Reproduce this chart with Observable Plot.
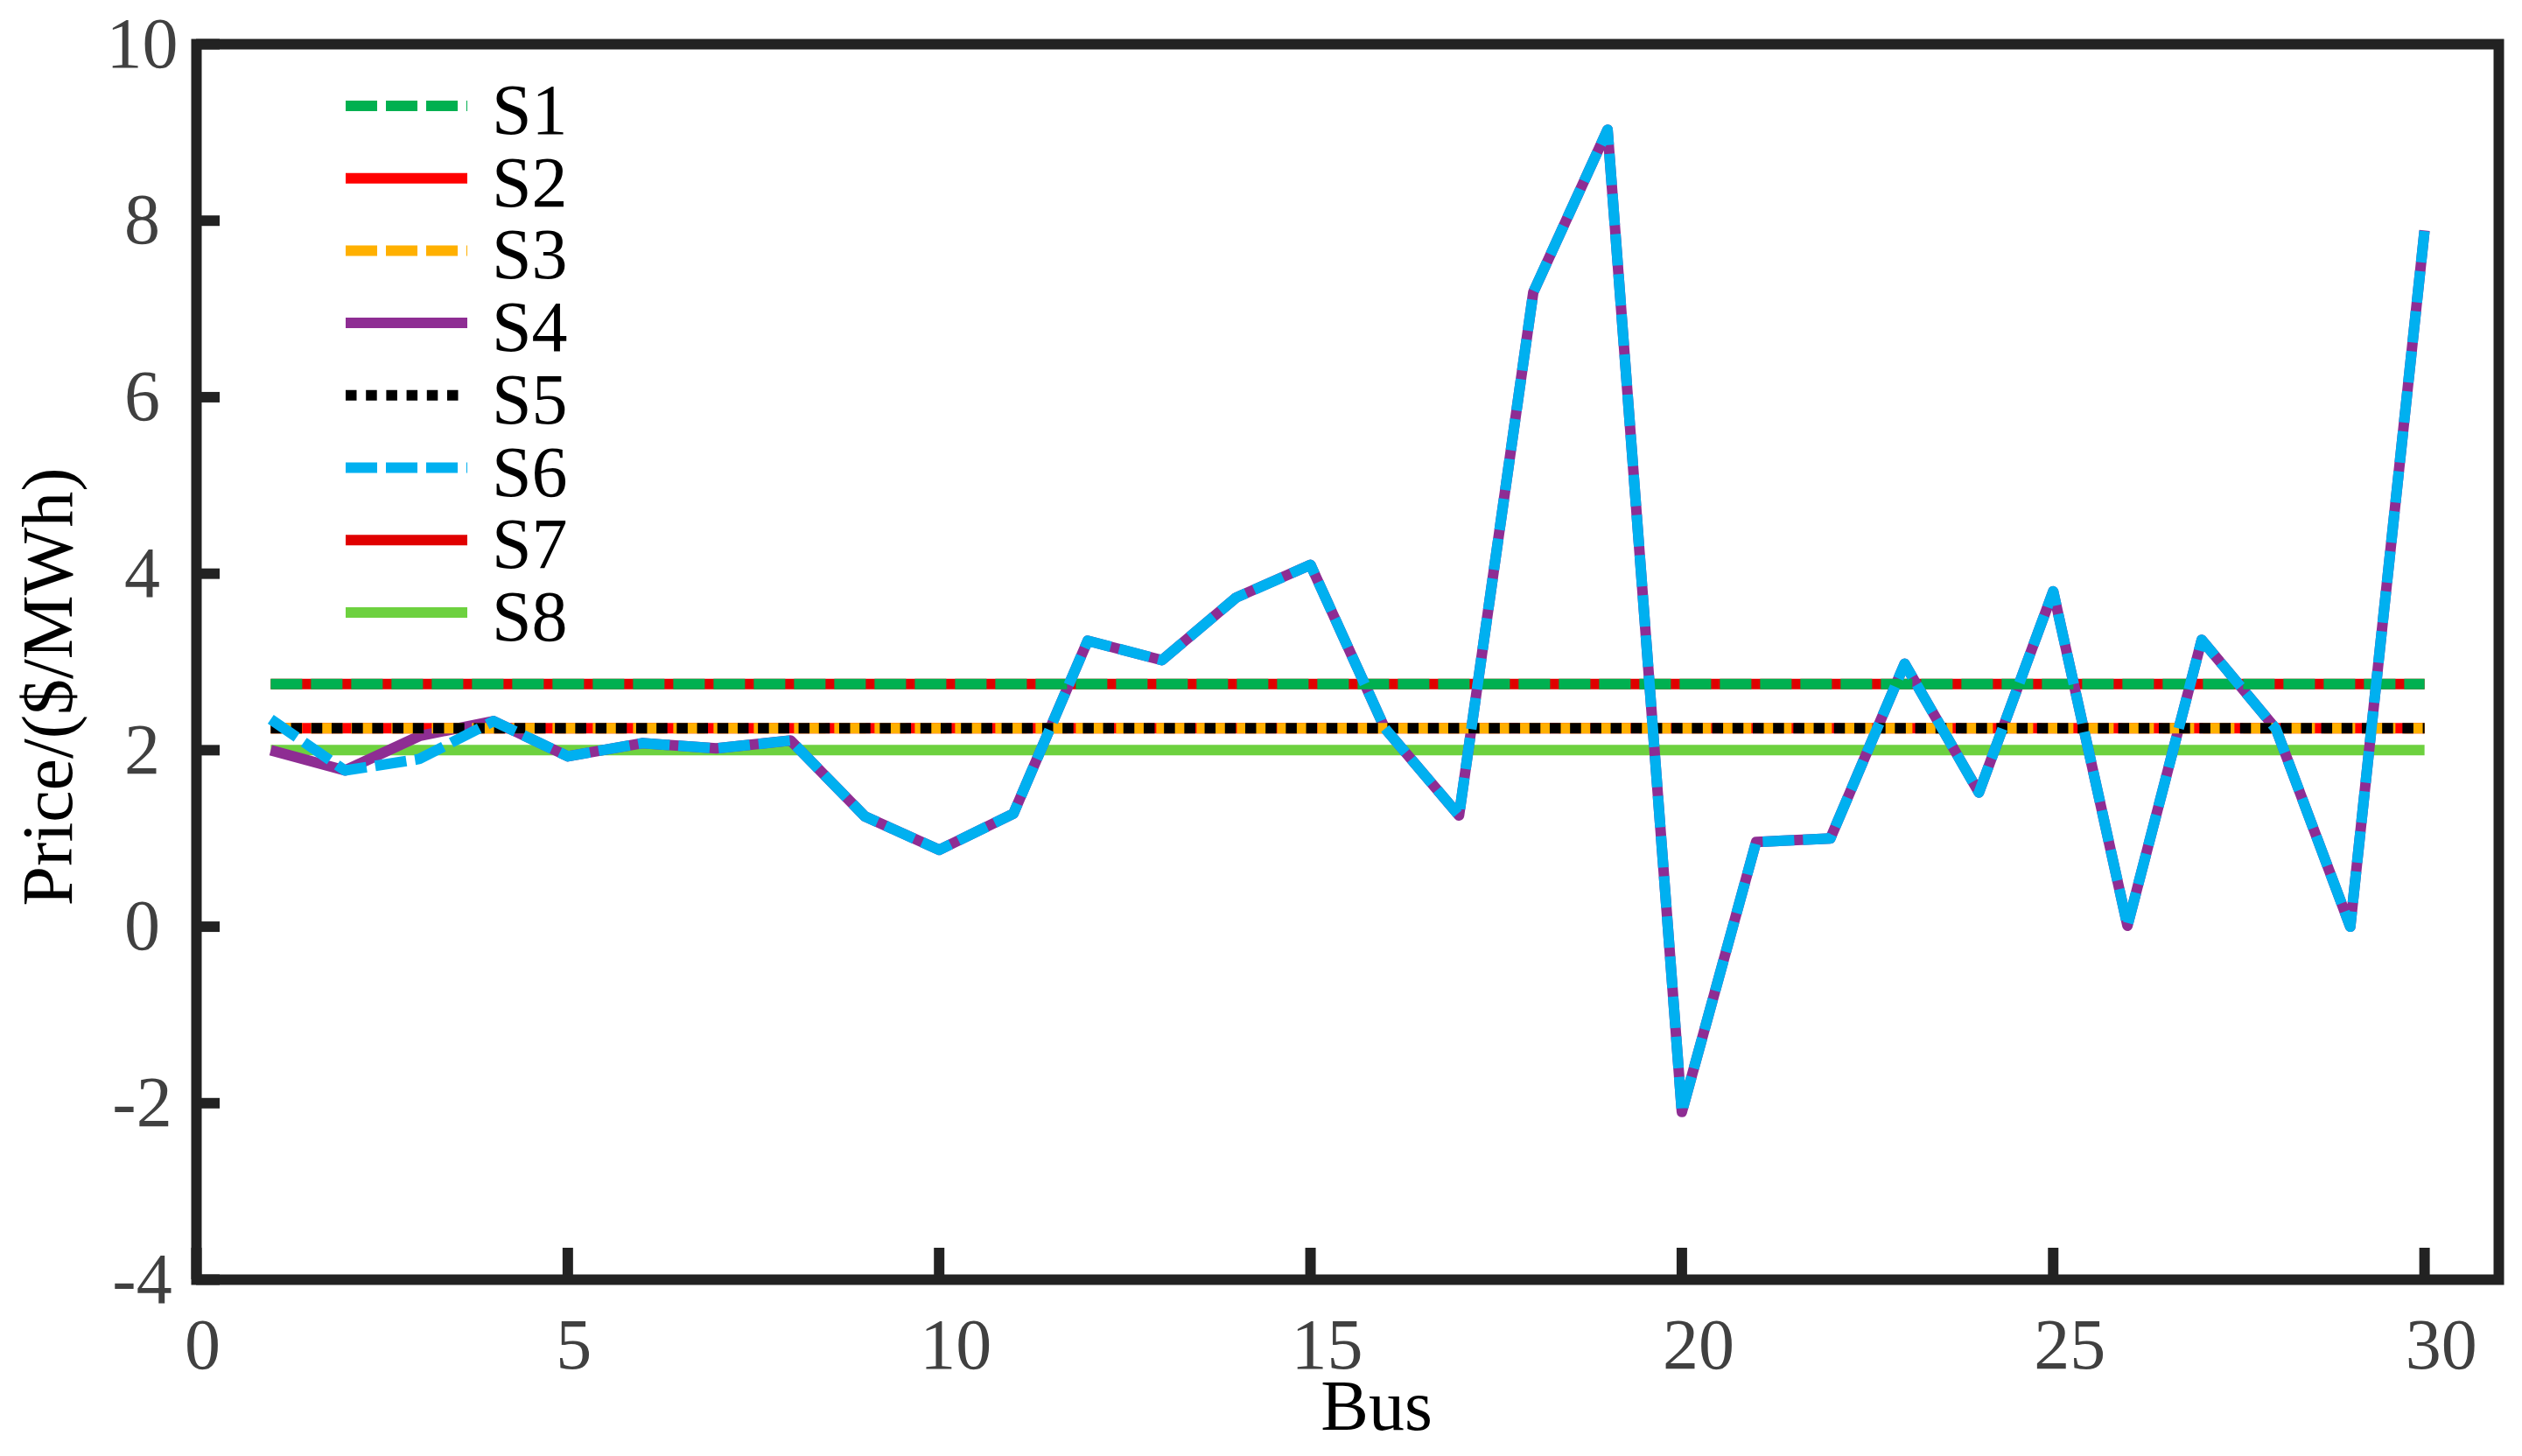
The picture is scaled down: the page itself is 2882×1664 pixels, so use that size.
<!DOCTYPE html>
<html>
<head>
<meta charset="utf-8">
<script src="https://cdn.jsdelivr.net/npm/d3@7"></script>
<script src="https://cdn.jsdelivr.net/npm/@observablehq/plot@0.6"></script>
<style>
  html, body { margin: 0; padding: 0; background: #ffffff; }
  #chart { width: 2882px; height: 1664px; }
</style>
</head>
<body>
<div id="chart"></div>
<script>
// ---------- data ----------
const buses = [1,2,3,4,5,6,7,8,9,10,11,12,13,14,15,16,17,18,19,20,21,22,23,24,25,26,27,28,29,30];

const s1 = [2.75,2.75,2.75,2.75,2.75,2.75,2.75,2.75,2.75,2.75,2.75,2.75,2.75,2.75,2.75,2.75,2.75,2.75,2.75,2.75,2.75,2.75,2.75,2.75,2.75,2.75,2.75,2.75,2.75,2.75];
const s2 = [2.25,2.25,2.25,2.25,2.25,2.25,2.25,2.25,2.25,2.25,2.25,2.25,2.25,2.25,2.25,2.25,2.25,2.25,2.25,2.25,2.25,2.25,2.25,2.25,2.25,2.25,2.25,2.25,2.25,2.25];
const s3 = [2.25,2.25,2.25,2.25,2.25,2.25,2.25,2.25,2.25,2.25,2.25,2.25,2.25,2.25,2.25,2.25,2.25,2.25,2.25,2.25,2.25,2.25,2.25,2.25,2.25,2.25,2.25,2.25,2.25,2.25];
const s4 = [2.00,1.77,2.16,2.33,1.93,2.08,2.02,2.11,1.25,0.87,1.28,3.24,3.02,3.73,4.10,2.25,1.26,7.19,9.03,-2.10,0.96,1.00,2.98,1.52,3.80,0.01,3.25,2.24,0.00,7.89];
const s5 = [2.25,2.25,2.25,2.25,2.25,2.25,2.25,2.25,2.25,2.25,2.25,2.25,2.25,2.25,2.25,2.25,2.25,2.25,2.25,2.25,2.25,2.25,2.25,2.25,2.25,2.25,2.25,2.25,2.25,2.25];
const s6 = [2.35,1.77,1.90,2.33,1.93,2.08,2.02,2.11,1.25,0.87,1.28,3.24,3.02,3.73,4.10,2.25,1.26,7.19,9.03,-2.10,0.96,1.00,2.98,1.52,3.80,0.01,3.25,2.24,0.00,7.89];
const s7 = [2.75,2.75,2.75,2.75,2.75,2.75,2.75,2.75,2.75,2.75,2.75,2.75,2.75,2.75,2.75,2.75,2.75,2.75,2.75,2.75,2.75,2.75,2.75,2.75,2.75,2.75,2.75,2.75,2.75,2.75];
const s8 = [2.00,2.00,2.00,2.00,2.00,2.00,2.00,2.00,2.00,2.00,2.00,2.00,2.00,2.00,2.00,2.00,2.00,2.00,2.00,2.00,2.00,2.00,2.00,2.00,2.00,2.00,2.00,2.00,2.00,2.00];

const seriesNames  = ["S1","S2","S3","S4","S5","S6","S7","S8"];
const seriesValues = [s1, s2, s3, s4, s5, s6, s7, s8];

const xTicks = [0,5,10,15,20,25,30];
const yTicks = [-4,-2,0,2,4,6,8,10];
const xDomain = [0, 31];
const yDomain = [-4, 10];
const xLabel = "Bus";
const yLabel = "Price/($/MWh)";

// ---------- styles ----------
const seriesColors = ["#00B050","#FF0000","#FFB000","#8E2D93","#000000","#00B0F0","#E00000","#6DD13F"];
const DASH = "36,10", DOT = "12.5,10.7";
const seriesDash   = [DASH, null, DASH, null, DOT, DASH, null, null];
// drawing order (bottom -> top)
const drawOrder = [1, 6, 7, 3, 2, 0, 4, 5];

const FONT = "'Liberation Serif', 'Times New Roman', Times, serif";
const FS = 82;
const AXIS = "#222222";
const LW = 12;

// ---------- table ----------
const rows = [];
seriesNames.forEach((name, k) => {
  buses.forEach((b, i) => rows.push({series: name, bus: b, value: seriesValues[k][i]}));
});

const lineMarks = drawOrder.map(k =>
  Plot.line(rows.filter(r => r.series === seriesNames[k]), {
    x: "bus", y: "value",
    stroke: seriesColors[k], strokeWidth: LW,
    strokeDasharray: seriesDash[k] || undefined,
    strokeLinejoin: "round", strokeLinecap: "butt"
  })
);

const fmt = d => String(d);

const chart = Plot.plot({
  width: 2882, height: 1664,
  marginLeft: 224, marginRight: 27, marginTop: 50, marginBottom: 202,
  style: {fontFamily: FONT, fontSize: FS + "px", background: "#ffffff", overflow: "visible"},
  x: {domain: xDomain},
  y: {domain: yDomain},
  marks: [
    ...lineMarks,
    Plot.axisX(xTicks.filter(t => t < 10), {tickSize: 0, tickPadding: 43, dx: 7, tickFormat: fmt, color: "#404040", fontSize: FS, label: null}),
    Plot.axisX(xTicks.filter(t => t >= 10), {tickSize: 0, tickPadding: 43, dx: 19, tickFormat: fmt, color: "#404040", fontSize: FS, label: null}),
    Plot.axisY(yTicks, {tickSize: 0, tickPadding: 62, textAnchor: "middle", tickFormat: fmt, color: "#404040", fontSize: FS, label: null}),
    Plot.ruleX(xTicks, {x: d => d, y1: yDomain[0], y2: yDomain[0], insetTop: -36, stroke: AXIS, strokeWidth: LW}),
    Plot.ruleY(yTicks, {y: d => d, x1: xDomain[0], x2: xDomain[0], insetRight: -27, stroke: AXIS, strokeWidth: LW}),
    Plot.frame({stroke: AXIS, strokeWidth: LW})
  ]
});

document.getElementById("chart").appendChild(chart);

// ---------- axis titles & legend (drawn into the same svg) ----------
const svg = d3.select(chart);

svg.append("text")
  .attr("x", 1573).attr("y", 1634)
  .attr("text-anchor", "middle")
  .attr("font-family", FONT).attr("font-size", FS).attr("fill", "#000")
  .text(xLabel);

svg.append("text")
  .attr("transform", "translate(82,785) rotate(-90)")
  .attr("text-anchor", "middle")
  .attr("font-family", FONT).attr("font-size", FS).attr("fill", "#000")
  .text(yLabel);

const legend = svg.append("g").attr("class", "legend");
const legX0 = 395, legX1 = 534, legY0 = 121, legDY = 82.7, legTextX = 562;
seriesNames.forEach((name, k) => {
  const y = legY0 + k * legDY;
  legend.append("line")
    .attr("x1", legX0).attr("x2", legX1).attr("y1", y).attr("y2", y)
    .attr("stroke", seriesColors[k]).attr("stroke-width", LW)
    .attr("stroke-dasharray", seriesDash[k] || null)
    .attr("stroke-linecap", "butt");
  legend.append("text")
    .attr("x", legTextX).attr("y", y + 32)
    .attr("text-anchor", "start")
    .attr("font-family", FONT).attr("font-size", FS).attr("fill", "#000")
    .text(name);
});
</script>
</body>
</html>
